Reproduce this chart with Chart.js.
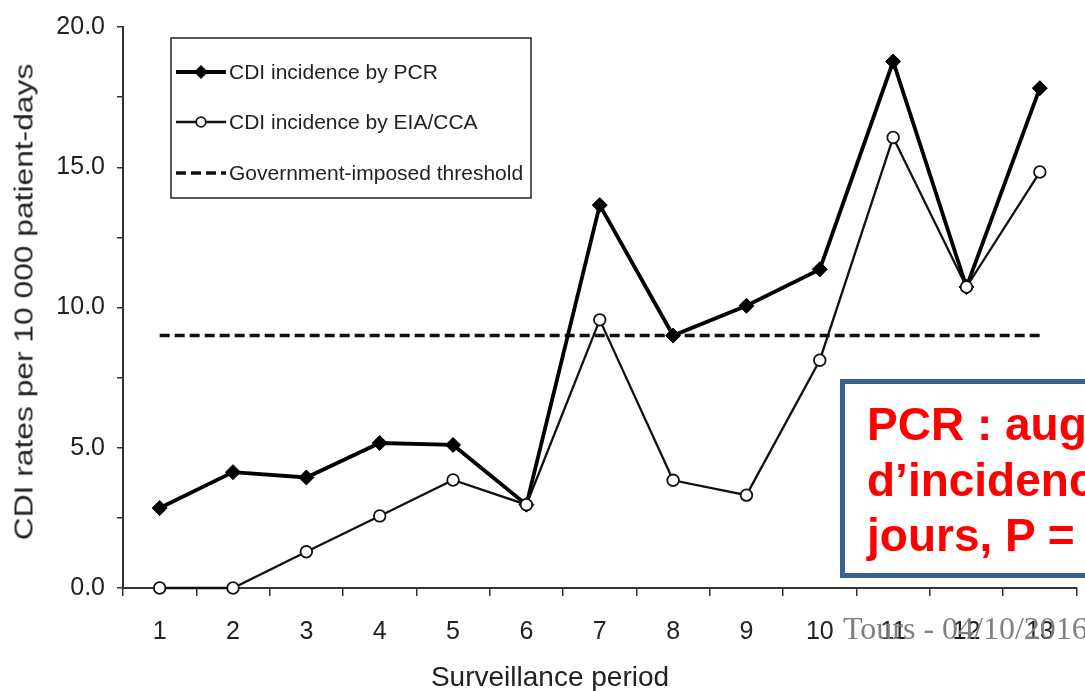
<!DOCTYPE html>
<html>
<head>
<meta charset="utf-8">
<script src="https://cdn.jsdelivr.net/npm/chart.js@4.4.1/dist/chart.umd.min.js"></script>
<style>
  body { margin: 0; background: #fff; overflow: hidden; width: 1085px; height: 691px; position: relative; font-family: 'Liberation Sans', Arial, sans-serif; }
  #grafico { position: absolute; left: 0; top: 0; }
  #titulo-x { position: absolute; left: 550px; top: 663px; transform: translateX(-50%); font-size: 28px; line-height: 28px; color: #222; white-space: nowrap; }
  #titulo-y { position: absolute; left: 24px; top: 302px; transform: translate(-50%, -50%) rotate(-90deg) scaleX(1.27); font-size: 25px; line-height: 25px; color: #222; white-space: nowrap; }
  #caixa { position: absolute; left: 840px; top: 379px; width: 400px; height: 176px; border: 5px solid #3a6191; background: #fff;
           color: #ff0000; font-weight: bold; font-size: 46px; line-height: 55.5px; padding: 13px 0 0 22px; box-sizing: content-box; white-space: nowrap; }
  #rodape { position: absolute; left: 843px; top: 612px; font-family: 'Liberation Serif', 'Times New Roman', serif; font-size: 32px; line-height: 32px; color: #7f7f7f; white-space: nowrap; }
</style>
</head>
<body>
<canvas id="grafico" width="1085" height="691"></canvas>
<div id="titulo-x">Surveillance period</div>
<div id="titulo-y">CDI rates per 10 000 patient-days</div>
<div id="caixa">PCR : augmentation<br>d’incidence<br>jours, P =</div>
<div id="rodape">Tours - 04/10/2016</div>
<script>
const periodos = ['1', '2', '3', '4', '5', '6', '7', '8', '9', '10', '11', '12', '13'];
const incidenciaPCR = [2.85, 4.13, 3.94, 5.17, 5.1, 2.97, 13.65, 9.0, 10.06, 11.36, 18.77, 10.73, 17.82];
const incidenciaEIA = [0, 0, 1.29, 2.57, 3.85, 2.97, 9.56, 3.84, 3.31, 8.12, 16.06, 10.73, 14.83];
const limiar = [9, 9, 9, 9, 9, 9, 9, 9, 9, 9, 9, 9, 9];

const nomes = ['CDI incidence by PCR', 'CDI incidence by EIA/CCA', 'Government-imposed threshold'];

const corEixo = '#333';
const corTexto = '#222';

// legenda desenhada dentro da area do grafico
const legendaPlugin = {
  id: 'legendaCaixa',
  afterDraw(chart) {
    const ctx = chart.ctx;
    const x0 = 171, y0 = 38, w = 360, h = 160;
    ctx.save();
    ctx.strokeStyle = '#222';
    ctx.lineWidth = 1.5;
    ctx.strokeRect(x0, y0, w, h);

    const linhasY = [72, 122, 173];
    chart.data.datasets.forEach((ds, i) => {
      const y = linhasY[i];
      ctx.save();
      ctx.strokeStyle = ds.borderColor;
      ctx.lineWidth = ds.borderWidth;
      ctx.setLineDash(ds.borderDash || []);
      ctx.beginPath();
      ctx.moveTo(176, y);
      ctx.lineTo(226, y);
      ctx.stroke();
      ctx.restore();
      if (ds.pointRadius > 0) {
        ctx.save();
        ctx.fillStyle = ds.pointBackgroundColor;
        ctx.strokeStyle = ds.pointBorderColor;
        ctx.lineWidth = ds.pointBorderWidth;
        Chart.helpers.drawPoint(ctx, { pointStyle: ds.pointStyle, radius: ds.pointRadius - 1, rotation: 0, borderWidth: ds.pointBorderWidth }, 201, y);
        ctx.restore();
      }
      ctx.fillStyle = corTexto;
      ctx.font = '21px "Liberation Sans", Arial, sans-serif';
      ctx.textBaseline = 'middle';
      ctx.textAlign = 'left';
      ctx.fillText(ds.label, 229, y + 1);
    });
    ctx.restore();
  }
};

const ctx = document.getElementById('grafico').getContext('2d');
const grafico = new Chart(ctx, {
  type: 'line',
  data: {
    labels: periodos,
    datasets: [
      {
        label: nomes[0],
        data: incidenciaPCR,
        borderColor: '#000',
        borderWidth: 3.8,
        pointStyle: 'rectRot',
        pointRadius: 7.5,
        pointBackgroundColor: '#000',
        pointBorderColor: '#000',
        pointBorderWidth: 1,
        tension: 0,
        clip: false,
        order: 2
      },
      {
        label: nomes[1],
        data: incidenciaEIA,
        borderColor: '#111',
        borderWidth: 2.3,
        pointStyle: 'circle',
        pointRadius: 5.8,
        pointBackgroundColor: '#fff',
        pointBorderColor: '#111',
        pointBorderWidth: 1.8,
        tension: 0,
        clip: false,
        order: 1
      },
      {
        label: nomes[2],
        data: limiar,
        borderColor: '#111',
        borderWidth: 3.5,
        borderDash: [10, 5],
        pointRadius: 0,
        tension: 0,
        order: 3
      }
    ]
  },
  options: {
    responsive: false,
    devicePixelRatio: 1,
    animation: false,
    layout: { padding: { top: 20, right: 8, left: 0, bottom: 0 } },
    plugins: {
      legend: { display: false },
      tooltip: { enabled: false }
    },
    scales: {
      x: {
        type: 'category',
        offset: true,
        grid: { offset: true, drawOnChartArea: false, drawTicks: true, tickLength: 8, color: corEixo, lineWidth: 1.5 },
        border: { display: true, color: corEixo, width: 2 },
        ticks: { autoSkip: false, maxRotation: 0, padding: 21, color: corTexto, font: { size: 25, family: '"Liberation Sans", Arial, sans-serif' } },
        afterFit(scale) { scale.height = 103; }
      },
      y: {
        min: 0,
        max: 20,
        grid: { drawOnChartArea: false, drawTicks: true, tickLength: 6, color: corEixo, lineWidth: 1.5 },
        border: { display: true, color: corEixo, width: 2 },
        ticks: {
          stepSize: 2.5,
          padding: 12,
          color: corTexto,
          font: { size: 25, family: '"Liberation Sans", Arial, sans-serif' },
          callback: v => (v % 5 === 0 ? v.toFixed(1) : '')
        },
        afterFit(scale) { scale.width = 123; }
      }
    }
  },
  plugins: [legendaPlugin]
});
</script>
</body>
</html>
